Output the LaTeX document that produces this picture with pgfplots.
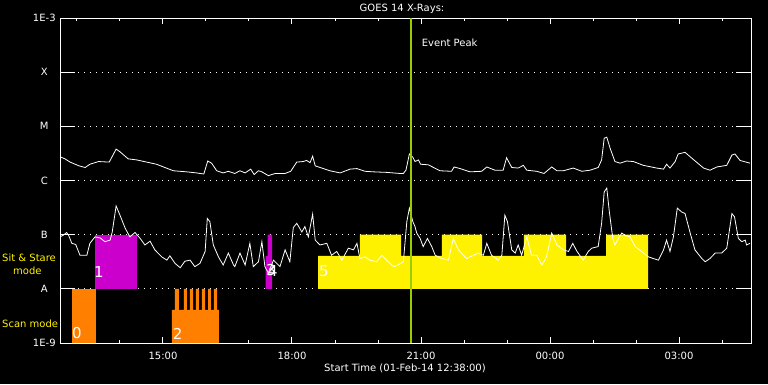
\documentclass[border=0pt]{standalone}
\usepackage{fontspec}
\setmainfont{DejaVu Sans}
\usepackage{pgfplots}
\pgfplotsset{compat=1.18}
\definecolor{scanorange}{RGB}{255,128,0}
\definecolor{ssmag}{RGB}{204,0,204}
\definecolor{peakgreen}{RGB}{154,205,0}
\begin{document}
\begin{tikzpicture}[font=\fontsize{10}{12}\selectfont, x=1pt, y=1pt]
\fill[black] (0,0) rectangle (768,384);
\useasboundingbox (0,0) rectangle (768,384);
\begin{axis}[
 at={(60pt,41pt)}, anchor=south west,
 scale only axis, width=691pt, height=325pt,
 xmin=12.605, xmax=28.674, ymin=-9, ymax=-3,
 axis line style={white, line width=1pt},
 xtick={15,18,21,24,27}, xticklabels={15:00,18:00,21:00,00:00,03:00},
 minor xtick={13,14,16,17,19,20,22,23,25,26,28},
 ytick={-9,-8,...,-3}, yticklabels={1E-9,A,B,C,M,X,1E-3},
 tick style={white, line width=1pt},
 xtick style={/pgfplots/major tick length=6pt, /pgfplots/minor tick length=3pt},
 ytick style={/pgfplots/major tick length=15pt},
 ymajorgrids, grid style={white, line width=1pt, dash pattern=on 1pt off 5pt},
 ticklabel style={white},
 xticklabel style={yshift=-6pt},
 yticklabel style={text width=28pt, align=center, inner sep=0pt, xshift=-1.5pt},
]
% Scan mode 0
\addplot[fill=scanorange, draw=none] coordinates {(12.884,-9) (12.884,-8) (13.442,-8) (13.442,-9)} -- cycle;
% Sit & Stare 1
\addplot[fill=ssmag, draw=none] coordinates {(13.419,-8) (13.419,-7) (14.395,-7) (14.395,-8)} -- cycle;
% Scan mode 2
\addplot[fill=scanorange, draw=none] coordinates {(15.209,-9) (15.209,-8.39) (15.279,-8.39) (15.279,-8) (15.372,-8) (15.372,-8.39) (15.488,-8.39) (15.488,-8) (15.558,-8) (15.558,-8.39) (15.628,-8.39) (15.628,-8) (15.698,-8) (15.698,-8.39) (15.767,-8.39) (15.767,-8) (15.837,-8) (15.837,-8.39) (15.907,-8.39) (15.907,-8) (15.977,-8) (15.977,-8.39) (16.047,-8.39) (16.047,-8) (16.116,-8) (16.116,-8.39) (16.186,-8.39) (16.186,-8) (16.256,-8) (16.256,-8.39) (16.302,-8.39) (16.302,-9)} -- cycle;
% Sit & Stare 3/4
\addplot[fill=ssmag, draw=none] coordinates {(17.388,-8) (17.388,-7.39) (17.435,-7.39) (17.435,-7) (17.535,-7) (17.535,-8)} -- cycle;
% Sit & Stare 5
\addplot[fill=yellow, draw=none] coordinates {(18.605,-8) (18.605,-7.39) (19.581,-7.39) (19.581,-7) (20.535,-7) (20.535,-7.39) (21.488,-7.39) (21.488,-7) (22.419,-7) (22.419,-7.39) (23.395,-7.39) (23.395,-7) (24.372,-7) (24.372,-7.39) (25.302,-7.39) (25.302,-7) (26.279,-7) (26.279,-8)} -- cycle;
% long channel
\addplot[white, line width=0.8pt] coordinates {(12.63,-5.57) (12.72,-5.60) (12.84,-5.66) (13.05,-5.73) (13.19,-5.76) (13.30,-5.70) (13.50,-5.65) (13.75,-5.66) (13.91,-5.42) (14.00,-5.47) (14.19,-5.60) (14.39,-5.62) (14.62,-5.66) (14.85,-5.70) (15.24,-5.82) (15.55,-5.84) (15.78,-5.86) (15.95,-5.88) (16.04,-5.64) (16.13,-5.68) (16.25,-5.82) (16.40,-5.86) (16.52,-5.83) (16.67,-5.87) (16.79,-5.82) (16.91,-5.86) (17.04,-5.79) (17.12,-5.89) (17.22,-5.82) (17.30,-5.84) (17.45,-5.91) (17.61,-5.87) (17.84,-5.87) (17.97,-5.83) (18.11,-5.66) (18.26,-5.65) (18.34,-5.63) (18.42,-5.67) (18.48,-5.55) (18.54,-5.73) (18.73,-5.78) (18.88,-5.82) (19.12,-5.86) (19.35,-5.79) (19.51,-5.78) (19.70,-5.83) (19.89,-5.84) (20.20,-5.85) (20.51,-5.87) (20.59,-5.87) (20.65,-5.81) (20.73,-5.51) (20.81,-5.57) (20.86,-5.65) (20.94,-5.62) (20.99,-5.70) (21.17,-5.71) (21.44,-5.82) (21.71,-5.83) (21.77,-5.75) (21.91,-5.78) (22.14,-5.84) (22.41,-5.83) (22.53,-5.75) (22.72,-5.81) (22.91,-5.81) (22.99,-5.58) (23.11,-5.76) (23.26,-5.77) (23.38,-5.72) (23.46,-5.81) (23.69,-5.83) (23.86,-5.87) (24.04,-5.75) (24.16,-5.82) (24.31,-5.82) (24.54,-5.77) (24.74,-5.83) (24.93,-5.81) (25.12,-5.76) (25.20,-5.62) (25.26,-5.22) (25.32,-5.20) (25.40,-5.41) (25.51,-5.65) (25.63,-5.68) (25.78,-5.64) (25.94,-5.65) (26.17,-5.72) (26.48,-5.77) (26.64,-5.79) (26.71,-5.70) (26.79,-5.77) (26.91,-5.65) (26.98,-5.51) (27.14,-5.48) (27.33,-5.61) (27.57,-5.77) (27.72,-5.81) (27.88,-5.75) (28.11,-5.72) (28.23,-5.53) (28.30,-5.51) (28.42,-5.63) (28.65,-5.68)};
% short channel
\addplot[white, line width=0.8pt] coordinates {(12.61,-7.04) (12.68,-7.01) (12.76,-6.96) (12.81,-7.02) (12.88,-7.16) (12.97,-7.18) (13.07,-7.38) (13.23,-7.38) (13.30,-7.16) (13.42,-7.04) (13.54,-7.06) (13.65,-7.13) (13.77,-7.10) (13.82,-6.95) (13.91,-6.47) (14.00,-6.64) (14.12,-6.88) (14.23,-7.04) (14.35,-6.96) (14.47,-7.07) (14.58,-7.19) (14.70,-7.12) (14.81,-7.28) (14.97,-7.41) (15.09,-7.47) (15.16,-7.39) (15.28,-7.53) (15.40,-7.61) (15.51,-7.49) (15.63,-7.47) (15.74,-7.59) (15.86,-7.53) (15.98,-7.31) (16.03,-6.70) (16.09,-6.76) (16.17,-7.19) (16.29,-7.41) (16.40,-7.56) (16.52,-7.34) (16.64,-7.56) (16.67,-7.59) (16.79,-7.34) (16.91,-7.56) (17.02,-7.16) (17.10,-7.59) (17.22,-7.50) (17.30,-7.13) (17.37,-7.59) (17.45,-7.71) (17.57,-7.47) (17.72,-7.59) (17.84,-7.28) (17.95,-7.50) (18.03,-6.87) (18.11,-6.79) (18.23,-6.95) (18.30,-6.85) (18.38,-7.04) (18.48,-6.62) (18.54,-7.10) (18.65,-7.19) (18.81,-7.16) (18.92,-7.38) (19.04,-7.31) (19.16,-7.47) (19.31,-7.25) (19.43,-7.28) (19.51,-7.16) (19.58,-7.44) (19.70,-7.41) (19.81,-7.47) (19.97,-7.50) (20.09,-7.38) (20.20,-7.47) (20.36,-7.59) (20.47,-7.56) (20.59,-7.50) (20.67,-6.76) (20.73,-6.51) (20.81,-6.76) (20.86,-6.85) (20.90,-6.97) (20.98,-7.07) (21.05,-7.22) (21.15,-7.07) (21.25,-7.22) (21.33,-7.38) (21.48,-7.44) (21.64,-7.47) (21.75,-7.07) (21.87,-7.28) (22.06,-7.44) (22.22,-7.38) (22.33,-7.34) (22.45,-7.38) (22.53,-7.16) (22.64,-7.38) (22.80,-7.47) (22.88,-7.38) (22.95,-6.64) (23.01,-6.76) (23.11,-7.28) (23.19,-7.34) (23.26,-7.19) (23.34,-7.38) (23.46,-7.04) (23.57,-7.38) (23.69,-7.38) (23.81,-7.56) (23.92,-7.41) (24.04,-6.97) (24.16,-7.19) (24.31,-7.28) (24.43,-7.31) (24.53,-7.16) (24.62,-7.30) (24.77,-7.47) (24.89,-7.31) (24.97,-7.25) (25.12,-7.22) (25.20,-6.79) (25.26,-6.21) (25.32,-6.14) (25.38,-6.58) (25.46,-7.07) (25.51,-7.19) (25.59,-7.07) (25.67,-6.97) (25.74,-7.01) (25.86,-7.04) (25.98,-7.22) (26.13,-7.31) (26.29,-7.41) (26.40,-7.44) (26.52,-7.47) (26.64,-7.28) (26.71,-7.10) (26.79,-7.31) (26.87,-7.04) (26.96,-6.51) (27.06,-6.58) (27.14,-6.61) (27.26,-6.97) (27.37,-7.28) (27.53,-7.44) (27.61,-7.50) (27.72,-7.44) (27.84,-7.34) (27.99,-7.34) (28.11,-7.25) (28.23,-6.61) (28.29,-6.67) (28.38,-7.07) (28.46,-7.13) (28.54,-7.10) (28.57,-7.19) (28.65,-7.16)};
% event peak
\addplot[peakgreen, line width=2.5pt] coordinates {(20.77,-9) (20.77,-3)};
\end{axis}
\node[white] at (402,375) {GOES 14 X-Rays:};
\node[white] at (405,15.5) {Start Time (01-Feb-14 12:38:00)};
\node[white, anchor=west, inner sep=0pt] at (421.7,341.5) {Event Peak};
\node[yellow, anchor=west, inner sep=0pt] at (2,126) {Sit \& Stare};
\node[yellow, anchor=west, inner sep=0pt] at (13,113) {mode};
\node[yellow, anchor=west, inner sep=0pt] at (2,60.5) {Scan mode};
\begin{scope}[every node/.style={white, font=\fontsize{15}{15}\selectfont, inner sep=0pt}]
\node at (77,51) {0};
\node at (99,111.5) {1};
\node at (177.7,50.5) {2};
\node at (271,114) {3};
\node at (273,113) {4};
\node at (324,112.5) {5};
\end{scope}
\end{tikzpicture}
\end{document}
